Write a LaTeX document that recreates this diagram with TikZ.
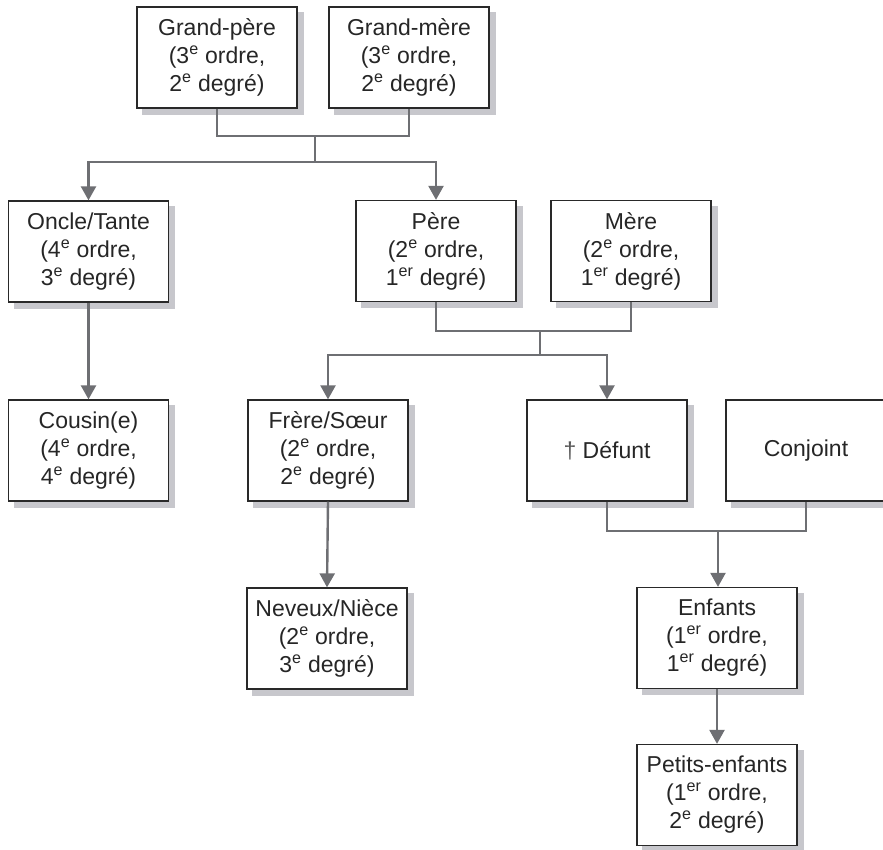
\documentclass[tikz,border=0pt]{standalone}
\usepackage{fontspec}
\setmainfont{Liberation Sans}
\usetikzlibrary{arrows.meta,backgrounds}
\definecolor{shadowgray}{rgb}{0.78,0.78,0.80}
\definecolor{linkgray}{rgb}{0.43,0.435,0.45}
\definecolor{boxline}{rgb}{0.16,0.16,0.16}
\newcommand\sups[1]{\textsuperscript{#1}}
\tikzset{
  person/.style={draw=boxline, line width=1.3pt, fill=white,
    minimum width=160pt, minimum height=101pt, inner sep=0pt, align=center,
    text=black!85, font=\fontsize{23}{28}\selectfont},
  boxshadow/.style={fill=shadowgray, draw=none},
  link/.style={draw=linkgray, line width=2.4pt},
  descent/.style={link, -{Triangle[width=15pt,length=14pt]}}
}
\begin{document}
\begin{tikzpicture}[x=1pt,y=-1pt]
\useasboundingbox (0,0) rectangle (883,849);
% generation of the grandparents
\node[person] (gp) at (217,57.5) {Grand-père\\(3\sups{e} ordre,\\2\sups{e} degré)};
\node[person] (gm) at (409,57.5) {Grand-mère\\(3\sups{e} ordre,\\2\sups{e} degré)};
% parents' generation
\node[person] (oncle) at (88.5,251.5) {Oncle/Tante\\(4\sups{e} ordre,\\3\sups{e} degré)};
\node[person] (pere) at (436,251) {Père\\(2\sups{e} ordre,\\1\sups{er} degré)};
\node[person] (mere) at (631,251) {Mère\\(2\sups{e} ordre,\\1\sups{er} degré)};
% deceased's generation
\node[person] (cousin) at (88.5,450.5) {Cousin(e)\\(4\sups{e} ordre,\\4\sups{e} degré)};
\node[person] (frere) at (328,450.5) {Frère/Sœur\\(2\sups{e} ordre,\\2\sups{e} degré)};
\node[person] (defunt) at (607,450.5) {{\color{black!65}†} Défunt};
\node[person] (conjoint) at (806,450.5) {Conjoint};
% descendants
\node[person] (neveux) at (327,638.5) {Neveux/Nièce\\(2\sups{e} ordre,\\3\sups{e} degré)};
\node[person] (enfants) at (717,638) {Enfants\\(1\sups{er} ordre,\\1\sups{er} degré)};
\node[person] (petits) at (717,795) {Petits-enfants\\(1\sups{er} ordre,\\2\sups{e} degré)};

% drop shadows behind every box
\begin{scope}[on background layer]
  \foreach \n in {gp,gm,oncle,pere,mere,cousin,frere,defunt,conjoint,neveux,enfants,petits}
    \fill[boxshadow] ([shift={(6,6)}]\n.north west) rectangle ([shift={(6,6)}]\n.south east);
\end{scope}

% junction points of the couples
\coordinate (c1) at (315,136);
\coordinate (b1) at (315,162);
\coordinate (c2) at (540,331);
\coordinate (b2) at (540,355);
\coordinate (c3) at (718,531);

% grandparents to their children
\draw[link] (gp.south) |- (c1) -| (gm.south);
\draw[link] (c1) -- (b1);
\draw[descent] (b1) -| (oncle.north);
\draw[descent] (b1) -| (pere.north);
% parents to their children
\draw[link] (pere.south) |- (c2) -| (mere.south);
\draw[link] (c2) -- (b2);
\draw[descent] (b2) -| (frere.north);
\draw[descent] (b2) -| (defunt.north);
% deceased and spouse to their children
\draw[link] (defunt.south) |- (c3) -| (conjoint.south);
\draw[descent] (c3) -- (c3 |- enfants.north);
% single lines of descent
\draw[descent] (oncle.south) -- (cousin.north);
\draw[descent] (frere.south) -- (neveux.north);
\draw[descent] (enfants.south) -- (petits.north);
\end{tikzpicture}
\end{document}
